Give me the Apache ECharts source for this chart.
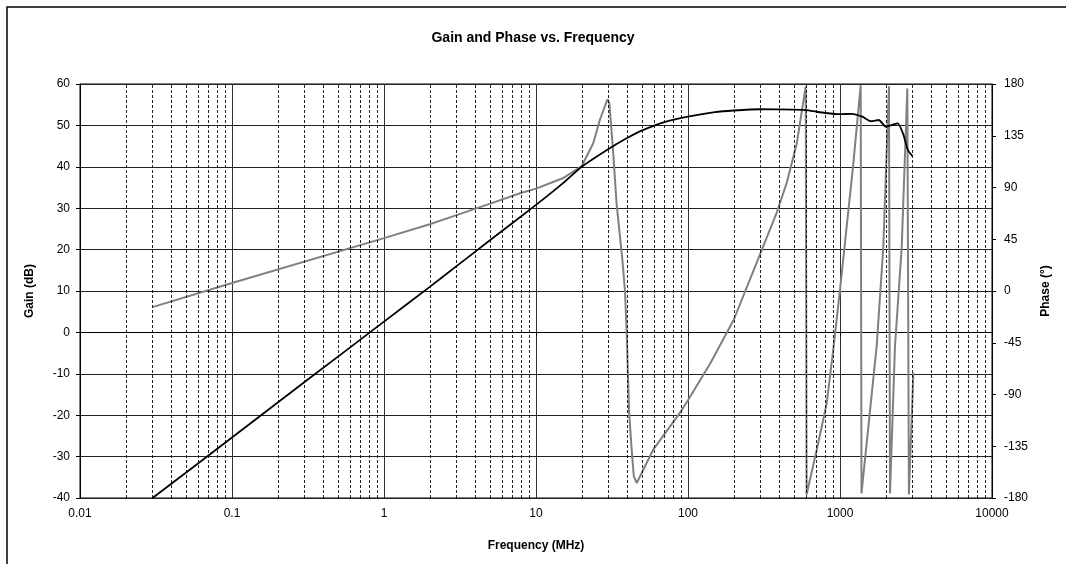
<!DOCTYPE html>
<html>
<head>
<meta charset="utf-8">
<title>Gain and Phase vs. Frequency</title>
<script src="https://cdn.jsdelivr.net/npm/echarts@6/dist/echarts.min.js"></script>
<style>
  html, body { margin: 0; padding: 0; background: #fff; }
  #chart { width: 1066px; height: 564px; }
</style>
</head>
<body>
<div id="chart"></div>
<script>
  // gain curve (black), frequency in MHz
  const gainFreq = [0.03, 0.1, 0.3, 1, 2, 3, 5, 10, 15, 20, 30, 40, 50, 70, 100, 150, 200, 300, 500, 600, 700, 800, 1000, 1200, 1400, 1600, 1800, 2000, 2200, 2400, 2600, 2800, 3000];
  const gainDb = [-40, -25.4, -12, 2.6, 11, 16, 22.3, 30.8, 36, 40, 44.3, 47, 48.8, 50.8, 52.1, 53.2, 53.6, 53.9, 53.8, 53.7, 53.3, 53, 52.7, 52.8, 52.1, 51, 51.3, 49.7, 50.1, 50.5, 48, 44, 42.6];

  // phase curve (gray), degrees, wraps at +/-180
  const phaseFreq = [0.03, 0.1, 1, 2, 3, 5, 7.85, 10, 15, 20, 23.8, 26.3, 29.5, 30.4, 32.2, 33.9, 37, 38.5, 39.5, 41, 42.6, 44, 46, 59, 88.5, 100, 140, 200, 300, 383, 446, 519, 595, 603, 703, 817, 903, 1000, 1224, 1368, 1385, 1743, 1927, 2100, 2133, 2300, 2547, 2773, 2840, 3040];
  const phaseDeg = [-14, 7, 46, 58, 66, 76, 85, 89, 98, 108.7, 128.5, 148.7, 166.7, 163, 120, 76, 27, 0, -36, -106, -138, -161, -167, -138, -106, -95, -63, -25, 33, 68, 94, 128, 178, -177, -138, -98, -51, 1, 111, 179, -176, -48, 38, 178, -176, -48, 38, 176, -177, -71];

  // dashed minor grid lines: 2..9 within each decade
  const decades = [0.01, 0.1, 1, 10, 100, 1000];
  const minorSteps = [2, 3, 4, 5, 6, 7, 8, 9];
  const minorFreqs = [];
  decades.forEach((d) => minorSteps.forEach((m) => minorFreqs.push(+(d * m).toPrecision(3))));

  const font = 'Liberation Sans, Arial, sans-serif';
  const chart = echarts.init(document.getElementById('chart'));

  chart.setOption({
    animation: false,
    textStyle: { fontFamily: font, color: '#000' },
    title: {
      text: 'Gain and Phase vs. Frequency',
      left: 'center',
      top: 26,
      textStyle: { fontFamily: font, fontSize: 14, fontWeight: 'bold', color: '#000' },
    },
    graphic: [
      {
        type: 'rect',
        shape: { x: 7, y: 7, width: 1200, height: 700 },
        style: { fill: 'none', stroke: '#000', lineWidth: 1.5 },
        silent: true,
      },
    ],
    grid: {
      left: 80,
      right: 74,
      top: 84,
      bottom: 66,
      show: true,
      borderColor: '#000',
      borderWidth: 1,
      containLabel: false,
    },
    xAxis: {
      type: 'log',
      logBase: 10,
      min: 0.01,
      max: 10000,
      name: 'Frequency (MHz)',
      nameLocation: 'middle',
      nameGap: 42,
      nameTextStyle: { fontFamily: font, fontSize: 12, fontWeight: 'bold', color: '#000' },
      axisLine: { lineStyle: { color: '#000', width: 1 } },
      axisTick: { show: true, length: 4, lineStyle: { color: '#000' } },
      axisLabel: {
        fontFamily: font,
        fontSize: 12,
        color: '#000',
        margin: 10,
        formatter: (v) => String(+v.toPrecision(6)),
      },
      splitLine: { show: true, lineStyle: { color: '#333', width: 1 } },
      minorTick: { show: false },
      minorSplitLine: { show: false },
    },
    yAxis: [
      {
        type: 'value',
        position: 'left',
        min: -40,
        max: 60,
        interval: 10,
        name: 'Gain (dB)',
        nameLocation: 'middle',
        nameGap: 44,
        nameRotate: 90,
        nameTextStyle: { fontFamily: font, fontSize: 12, fontWeight: 'bold', color: '#000' },
        axisLine: { show: true, lineStyle: { color: '#000', width: 1 } },
        axisTick: { show: true, length: 4, lineStyle: { color: '#000' } },
        axisLabel: { fontFamily: font, fontSize: 12, color: '#000', margin: 10 },
        splitLine: { show: true, lineStyle: { color: '#222', width: 1 } },
      },
      {
        type: 'value',
        position: 'right',
        min: -180,
        max: 180,
        interval: 45,
        name: 'Phase (°)',
        nameLocation: 'middle',
        nameGap: 48,
        nameRotate: 90,
        nameTextStyle: { fontFamily: font, fontSize: 12, fontWeight: 'bold', color: '#000' },
        axisLine: { show: true, lineStyle: { color: '#000', width: 1 } },
        axisTick: { show: true, length: 4, lineStyle: { color: '#000' } },
        axisLabel: { fontFamily: font, fontSize: 12, color: '#000', margin: 12 },
        splitLine: { show: false },
      },
    ],
    series: [
      {
        name: 'minor grid',
        type: 'line',
        data: [],
        z: 1,
        silent: true,
        markLine: {
          silent: true,
          symbol: ['none', 'none'],
          label: { show: false },
          lineStyle: { color: '#000', width: 1, type: [3, 2], opacity: 0.85 },
          emphasis: { disabled: true },
          data: minorFreqs.map((f) => ({ xAxis: f })),
        },
      },
      {
        name: 'Phase',
        type: 'line',
        yAxisIndex: 1,
        data: phaseFreq.map((f, i) => [f, phaseDeg[i]]),
        showSymbol: false,
        smooth: false,
        z: 3,
        lineStyle: { color: '#808080', width: 2 },
      },
      {
        name: 'Gain',
        type: 'line',
        yAxisIndex: 0,
        data: gainFreq.map((f, i) => [f, gainDb[i]]),
        showSymbol: false,
        smooth: 0.2,
        z: 4,
        lineStyle: { color: '#000', width: 1.8 },
      },
    ],
  });
</script>
</body>
</html>
